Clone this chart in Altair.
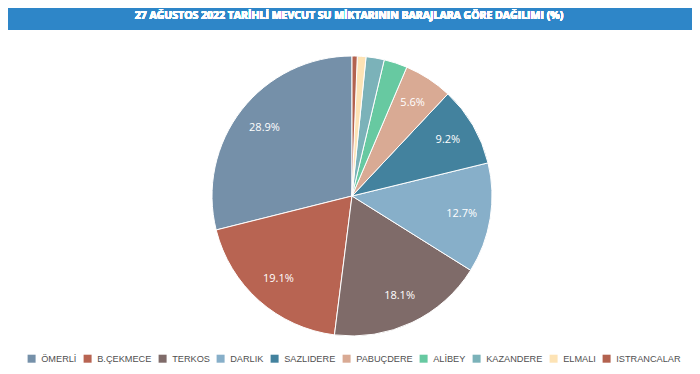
import altair as alt
import pandas as pd

names = ["ÖMERLİ", "B.ÇEKMECE", "TERKOS", "DARLIK", "SAZLIDERE",
         "PABUÇDERE", "ALİBEY", "KAZANDERE", "ELMALI", "ISTRANCALAR"]
values = [28.9, 19.1, 18.1, 12.7, 9.2, 5.6, 2.7, 2.1, 1.0, 0.6]
colors = ["#7590a9", "#b86452", "#7f6b69", "#87afc9", "#43829e",
          "#d9aa94", "#67c9a1", "#7bb2b9", "#fde3b5", "#b3624f"]
shown_labels = [True, True, True, True, True, True, False, False, False, False]
title_text = "27 AĞUSTOS 2022 TARİHLİ MEVCUT SU MİKTARININ BARAJLARA GÖRE DAĞILIMI (%)"

df = pd.DataFrame({
    "baraj": names,
    "deger": values,
    "idx": list(range(len(names))),
    "etiket": [f"{v:.1f}%" if s else "" for v, s in zip(values, shown_labels)],
})

W, H = 684, 358
CX, CY, R = 344, 188, 140

base = alt.Chart(df).encode(
    theta=alt.Theta("deger:Q", stack=True),
    order=alt.Order("idx:Q", sort="descending"),
)

pie = base.mark_arc(outerRadius=R, stroke="white", strokeWidth=1).encode(
    x=alt.value(CX), y=alt.value(CY),
    color=alt.Color("baraj:N",
                    scale=alt.Scale(domain=names, range=colors),
                    sort=names,
                    legend=alt.Legend(
                        title=None, orient="none", direction="horizontal",
                        columns=10, legendX=19, legendY=346,
                        symbolType="square", symbolSize=64,
                        symbolStrokeWidth=0, labelOffset=5,
                        columnPadding=6, labelFont="Liberation Sans",
                        labelFontSize=9.2, labelColor="#505050",
                    )),
)

labels = base.mark_text(radius=111, color="white", fontSize=11,
                        font="Open Sans").encode(
    x=alt.value(CX), y=alt.value(CY),
    text="etiket:N",
)

bar = alt.Chart(df).mark_rect(color="#2e86c8").encode(
    x=alt.value(0), x2=alt.value(W), y=alt.value(0), y2=alt.value(22),
)

title = alt.Chart(df).mark_text(
    text=title_text, color="white", fontSize=10.5, fontWeight="bold",
    font="Open Sans", align="center", baseline="middle",
).encode(x=alt.value(W / 2 - 1), y=alt.value(8))

chart = alt.layer(bar, title, pie, labels).properties(
    width=W, height=H, padding=0,
    autosize=alt.AutoSizeParams(type="none"),
).configure_view(stroke=None)

chart.save("out.html", embed_options={"renderer": "svg", "actions": False})
